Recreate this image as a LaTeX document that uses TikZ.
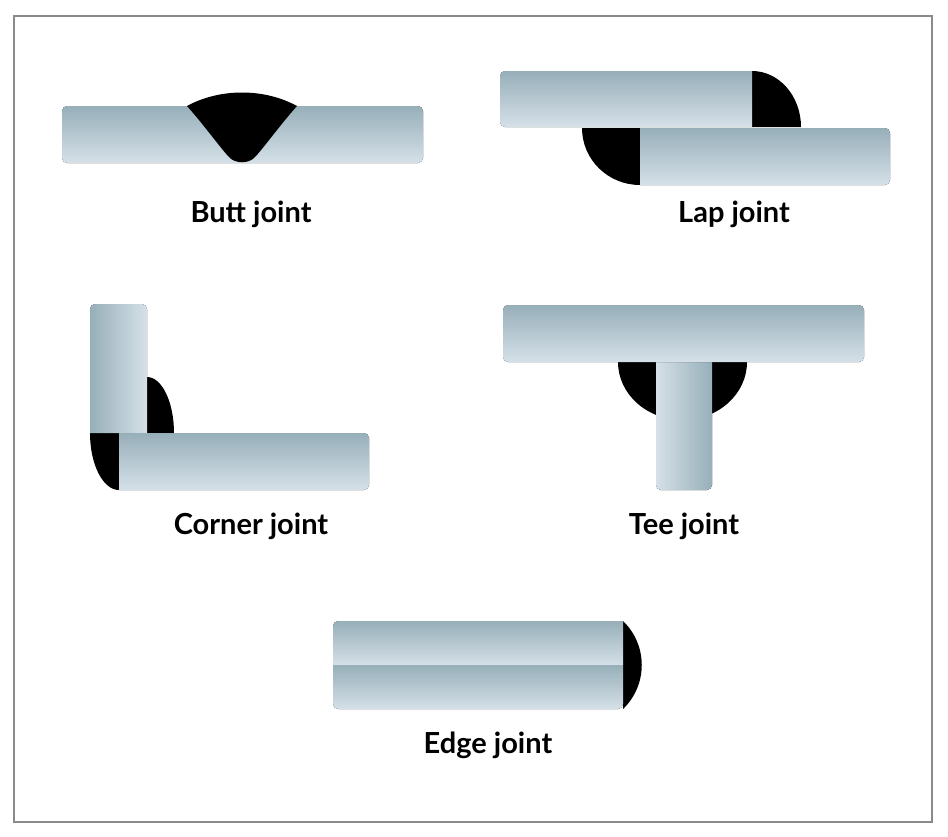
\documentclass[tikz,border=0pt]{standalone}
\usepackage{fontspec}
\setmainfont{Lato}
\begin{document}
\begin{tikzpicture}[x=1pt,y=-1pt,
  plateV/.style={rounded corners=5pt,top color=plD,bottom color=plL},
  lbl/.style={font=\fontsize{29}{34}\selectfont\bfseries,text=black,inner sep=0pt}]
\definecolor{plD}{HTML}{97AFB9}
\definecolor{plL}{HTML}{D5E0E8}
\definecolor{frame}{HTML}{8A8A8A}
\useasboundingbox (0,0) rectangle (948,836);
\fill[white] (0,0) rectangle (948,836);
\draw[frame,line width=1.5pt] (14,16) rectangle (932,822);
% Butt joint
\fill[rounded corners=5pt,top color=plD,middle color=plD,bottom color=plL] (62,106) rectangle (423,163);
\fill[black] (187,106) .. controls (220,88) and (264,88) .. (297,106)
  .. controls (280,125) and (262,150) .. (255,157) .. controls (249,164) and (235,164) .. (229,157)
  .. controls (222,150) and (204,125) .. (187,106) -- cycle;
\node[lbl] (butt) at (251,214) {Butt joint};
% Lap joint
\fill[black] (752,71) arc[start angle=-90,end angle=0,x radius=49,y radius=56] -- (752,127) -- cycle;
\fill[black] (640,128) -- (582,128) arc[start angle=180,end angle=90,x radius=58,y radius=57] -- cycle;
\fill[top color=plD,bottom color=plL] (752,71) -- (505,71) [rounded corners=5pt] -- (500,71) -- (500,127) [sharp corners] -- (752,127) -- cycle;
\fill[top color=plD,bottom color=plL] (640,128) -- (640,185) [rounded corners=5pt] -- (890,185) -- (890,128) [sharp corners] -- cycle;
\node[lbl] (lap) at (734,214) {Lap joint};
% Corner joint
\fill[black] (147,377) arc[start angle=-90,end angle=0,x radius=27,y radius=56] -- (147,433) -- cycle;
\fill[black] (119,433) -- (90,433) arc[start angle=180,end angle=90,x radius=29,y radius=57] -- cycle;
\fill[rounded corners=5pt,left color=plD,right color=plL] (90,433) -- (90,304) -- (147,304) [sharp corners] -- (147,433) -- cycle;
\fill[top color=plD,bottom color=plL] (119,433) [rounded corners=5pt] -- (369,433) -- (369,490) [sharp corners] -- (119,490) -- cycle;
\node[lbl] (corner) at (251,526) {Corner joint};
% Tee joint
\fill[black] (618,362) arc[start angle=180,end angle=0,x radius=64.5,y radius=58] -- cycle;
\fill[left color=plL,right color=plD] (656,362) [rounded corners=5pt] -- (656,490) -- (712,490) [sharp corners] -- (712,362) -- cycle;
\fill[plateV] (503,305) rectangle (864,362);
\node[lbl] (tee) at (684,526) {Tee joint};
% Edge joint
\fill[black] (623,621) .. controls (648,645) and (648,685) .. (623,709) -- cycle;
\fill[top color=plD,bottom color=plL] (623,621) -- (338,621) [rounded corners=5pt] -- (333,621) [sharp corners] -- (333,665) -- (623,665) -- cycle;
\fill[top color=plD,bottom color=plL] (623,665) -- (333,665) [rounded corners=5pt] -- (333,709) -- (623,709) [sharp corners] -- cycle;
\node[lbl] (edge) at (488,745) {Edge joint};
\end{tikzpicture}
\end{document}
